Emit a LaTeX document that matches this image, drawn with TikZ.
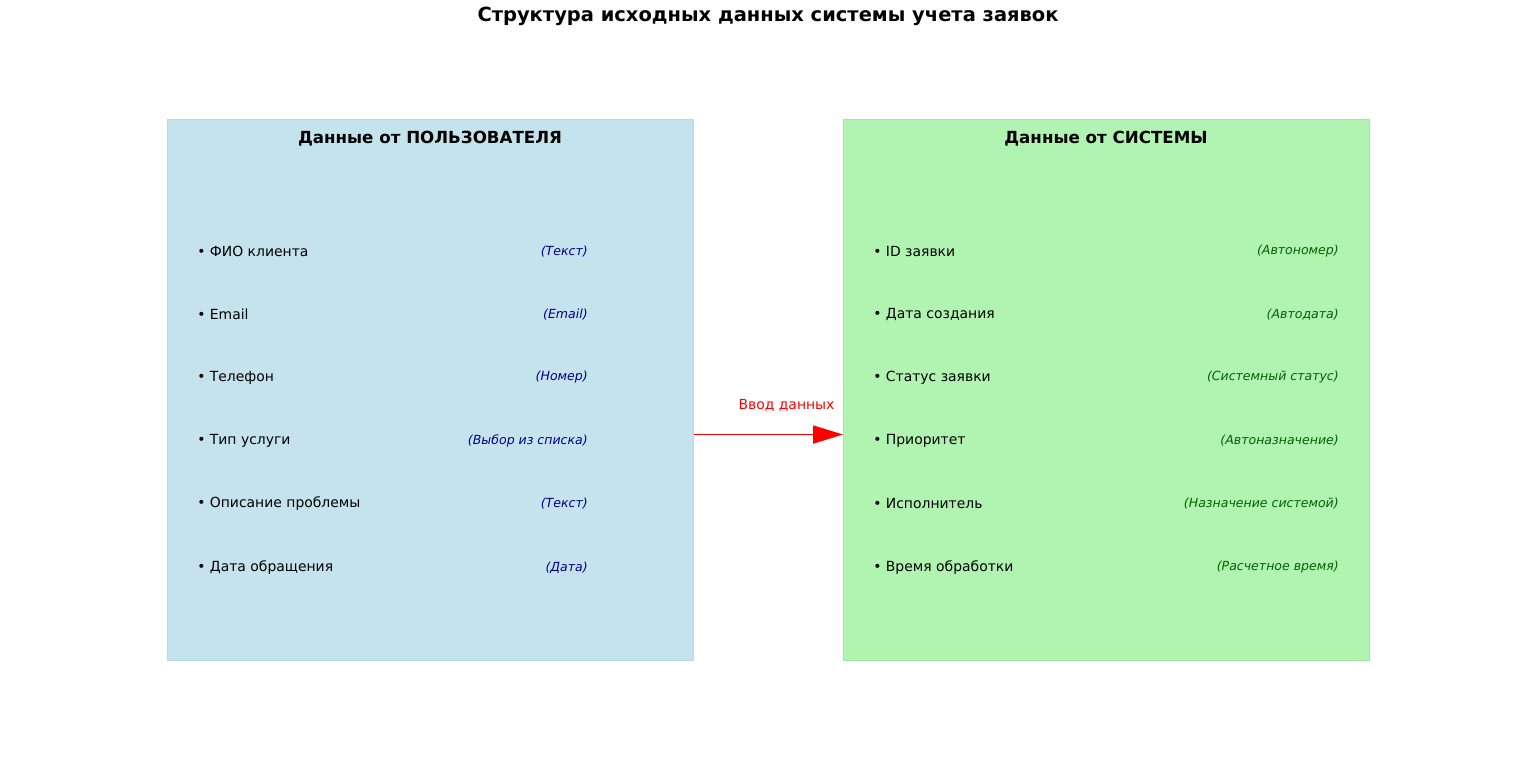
\documentclass[tikz,border=0pt]{standalone}
\usepackage{fontspec}
\setmainfont{DejaVu Sans}
\usetikzlibrary{arrows.meta}
\definecolor{azulclaro}{HTML}{C5E3ED}
\definecolor{azulborda}{HTML}{B3D9E6}
\definecolor{verdeclaro}{HTML}{B1F3B1}
\definecolor{verdeborda}{HTML}{9EEA9E}
\definecolor{azultipo}{HTML}{00008B}
\definecolor{verdetipo}{HTML}{006400}

\begin{document}
\begin{tikzpicture}[
  x=0.75pt, y=-0.75pt,
  painel/.style={draw, line width=0.75pt, minimum width=394.5pt, minimum height=405.75pt,
                 inner sep=0pt, anchor=north west},
  cabeca/.style={font=\fontsize{12.5}{15}\selectfont\bfseries, inner sep=0pt},
  campo/.style={font=\fontsize{10.45}{12.5}\selectfont, anchor=west, inner sep=0pt},
  tipo/.style={font=\fontsize{9.4}{11.3}\selectfont\itshape, anchor=east, inner sep=0pt},
  seta/.style={-{Triangle[length=22.5pt,width=13.5pt]}, red, line width=1.4pt},
]
\useasboundingbox (0,0) rectangle (1536,762);

% ---- Titulo ---------------------------------------------------------------
\node[font=\fontsize{14.6}{17.5}\selectfont\bfseries, inner sep=0pt] (titulo) at (768,16)
      {Структура исходных данных системы учета заявок};

% ---- Paineis --------------------------------------------------------------
\node[painel, fill=azulclaro, draw=azulborda] (usuario) at (167,119) {};
\node[painel, fill=verdeclaro, draw=verdeborda] (sistema) at (843,119) {};
\node[cabeca] (cusuario) at (430,138.5) {Данные от ПОЛЬЗОВАТЕЛЯ};
\node[cabeca] (csistema) at (1106,138.5) {Данные от СИСТЕМЫ};

% ---- Campos do usuario ----------------------------------------------------
\node[campo] (u1) at (197,251.5) {• ФИО клиента};
\node[campo] (u2) at (197,314.5) {• Email};
\node[campo] (u3) at (197,377.5) {• Телефон};
\node[campo] (u4) at (197,440.5) {• Тип услуги};
\node[campo] (u5) at (197,503.5) {• Описание проблемы};
\node[campo] (u6) at (197,567.5) {• Дата обращения};
\node[tipo, azultipo] (tu1) at (588,251.5) {(Текст)};
\node[tipo, azultipo] (tu2) at (588,314.5) {(Email)};
\node[tipo, azultipo] (tu3) at (588,377.5) {(Номер)};
\node[tipo, azultipo] (tu4) at (588,440.5) {(Выбор из списка)};
\node[tipo, azultipo] (tu5) at (588,503.5) {(Текст)};
\node[tipo, azultipo] (tu6) at (588,567.5) {(Дата)};

% ---- Campos do sistema ----------------------------------------------------
\node[campo] (s1) at (873,251.5) {• ID заявки};
\node[campo] (s2) at (873,314.5) {• Дата создания};
\node[campo] (s3) at (873,377.5) {• Статус заявки};
\node[campo] (s4) at (873,440.5) {• Приоритет};
\node[campo] (s5) at (873,503.5) {• Исполнитель};
\node[campo] (s6) at (873,567.5) {• Время обработки};
\node[tipo, verdetipo] (ts1) at (1339,251.5) {(Автономер)};
\node[tipo, verdetipo] (ts2) at (1339,314.5) {(Автодата)};
\node[tipo, verdetipo] (ts3) at (1339,377.5) {(Системный статус)};
\node[tipo, verdetipo] (ts4) at (1339,440.5) {(Автоназначение)};
\node[tipo, verdetipo] (ts5) at (1339,503.5) {(Назначение системой)};
\node[tipo, verdetipo] (ts6) at (1339,567.5) {(Расчетное время)};

% ---- Seta -----------------------------------------------------------------
\draw[seta] ([yshift=-33.4pt]usuario.east) -- node[midway, xshift=13.5pt, yshift=22pt,
      font=\fontsize{10.45}{12.5}\selectfont, inner sep=0pt] {Ввод данных}
      ([yshift=-33.4pt]sistema.west);

\end{tikzpicture}
\end{document}
